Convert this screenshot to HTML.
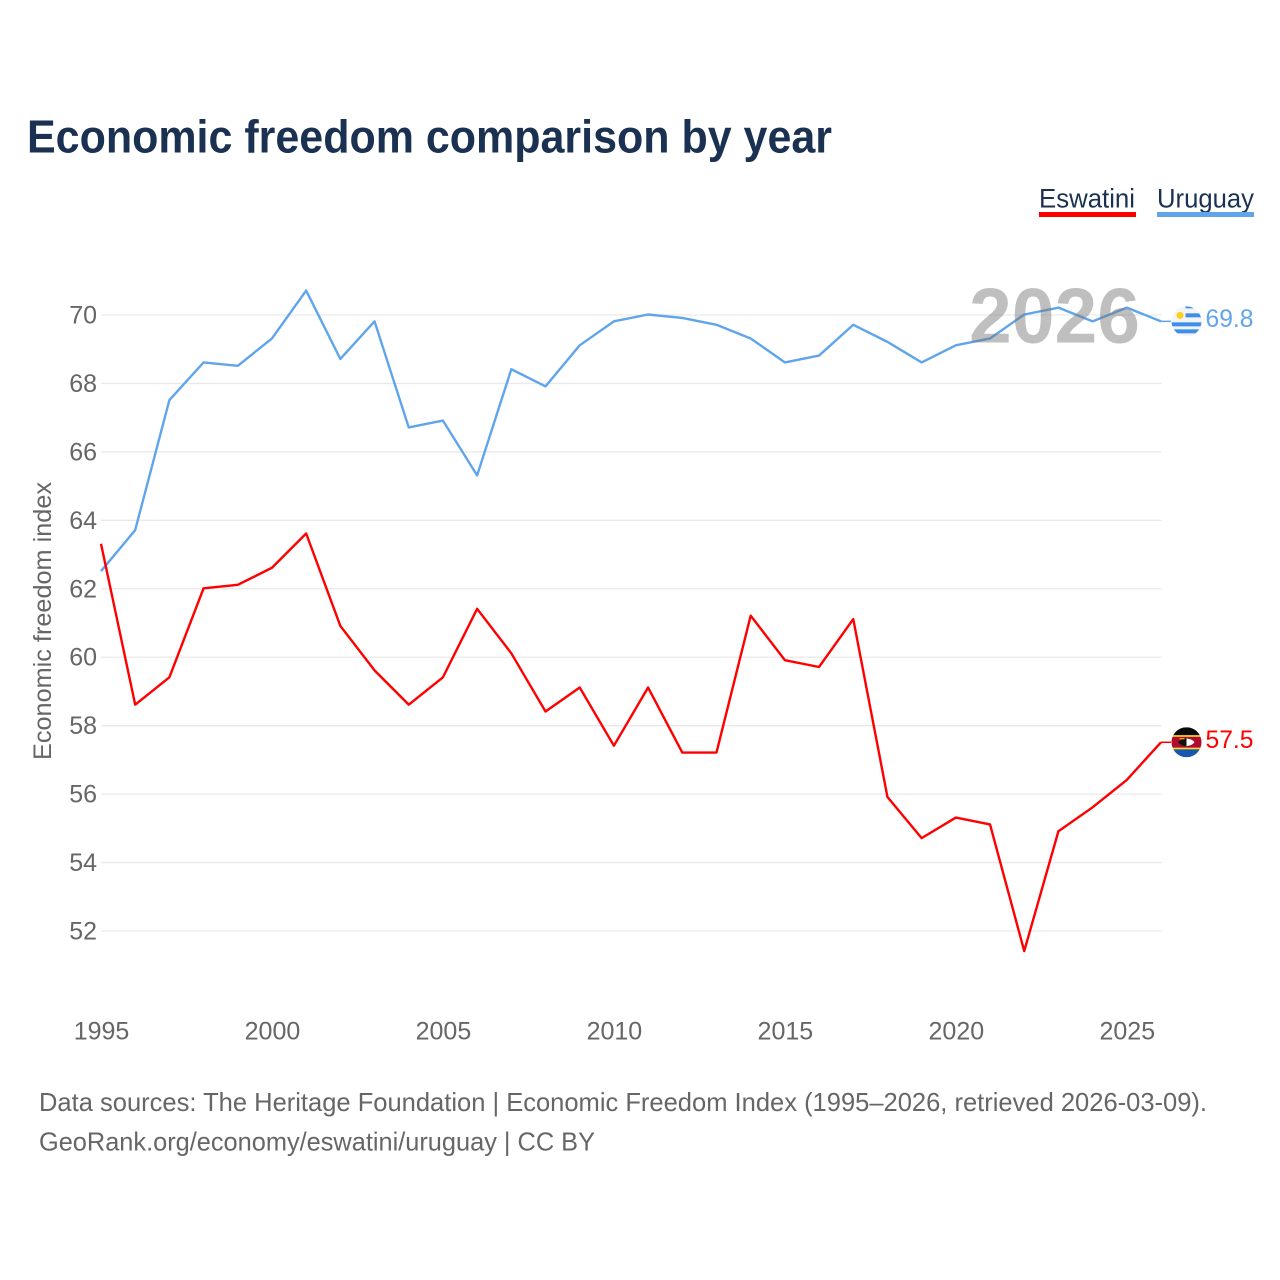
<!DOCTYPE html>
<html lang="en">
<head>
<meta charset="utf-8">
<title>Economic freedom comparison by year</title>
<style>
html,body{margin:0;padding:0;background:#fff;width:1280px;height:1280px;overflow:hidden}
svg{display:block;font-family:"Liberation Sans",sans-serif}
</style>
</head>
<body>
<svg id="chart" width="1280" height="1280" viewBox="0 0 1280 1280" xmlns="http://www.w3.org/2000/svg">
<defs>
<clipPath id="flag-clip"><circle cx="0" cy="0" r="15"></circle></clipPath>
</defs>
<rect width="1280" height="1280" fill="#fff"></rect>
<text x="27" y="152.5" font-size="46" font-weight="700" fill="#1a3152" textLength="805" lengthAdjust="spacingAndGlyphs">Economic freedom comparison by year</text>
<g>
<text x="1039" y="207.5" font-size="27" fill="#1a3152" textLength="96" lengthAdjust="spacingAndGlyphs">Eswatini</text>
<rect x="1039" y="212" width="97" height="5" fill="#ff0000"></rect>
</g>
<g>
<text x="1157" y="207.5" font-size="27" fill="#1a3152" textLength="97" lengthAdjust="spacingAndGlyphs">Uruguay</text>
<rect x="1157" y="212" width="97" height="5" fill="#60a5ec"></rect>
</g>
<g id="grid"></g>
<g id="y-axis"></g>
<g id="x-axis"></g>
<text transform="translate(51,621) rotate(-90)" text-anchor="middle" font-size="25" fill="#666" textLength="278" lengthAdjust="spacingAndGlyphs">Economic freedom index</text>
<g id="series" transform="translate(-0.5,-0.5)"></g>
<text x="969" y="342.5" font-size="78" font-weight="700" fill="#7a7a7a" fill-opacity="0.48" textLength="171" lengthAdjust="spacingAndGlyphs">2026</text>
<g id="flag-uruguay">
<g clip-path="url(#flag-clip)">
<rect x="-15" y="-15" width="30" height="30" fill="#f4f4f4"></rect>
<rect x="-1" y="-15" width="16" height="2" fill="#3f8fe8"></rect>
<rect x="-1" y="-8" width="16" height="4" fill="#3f8fe8"></rect>
<rect x="-15" y="1" width="30" height="4" fill="#3f8fe8"></rect>
<rect x="-15" y="8" width="30" height="4" fill="#3f8fe8"></rect>
<circle cx="-6.5" cy="-6" r="3.5" fill="#fcd116"></circle>
</g>
</g>
<g id="flag-eswatini">
<g clip-path="url(#flag-clip)">
<rect x="-15" y="-15" width="30" height="8" fill="#0a0a0a"></rect>
<rect x="-15" y="-7" width="30" height="1.5" fill="#ffd900"></rect>
<rect x="-15" y="-5.5" width="30" height="11" fill="#b10c2f"></rect>
<rect x="-15" y="5.5" width="30" height="1.5" fill="#ffd900"></rect>
<rect x="-15" y="7" width="30" height="8" fill="#1a56b0"></rect>
<path d="M-9 0 Q-3 -5 3 -4 L3 4 Q-3 5 -9 0Z" fill="#111"></path>
<path d="M0 -4 Q6 -3 8 0 Q6 3 0 4Z" fill="#fff"></path>
<rect x="-7" y="-4" width="5" height="1" fill="#ffd900"></rect>
</g>
</g>
<g id="end-labels"></g>
<text x="39" y="1111" font-size="26" fill="#666" textLength="1168" lengthAdjust="spacingAndGlyphs">Data sources: The Heritage Foundation | Economic Freedom Index (1995–2026, retrieved 2026-03-09).</text>
<text x="39" y="1150.5" font-size="26" fill="#666" textLength="556" lengthAdjust="spacingAndGlyphs">GeoRank.org/economy/eswatini/uruguay | CC BY</text>
</svg>
<script>
const years = [1995,1996,1997,1998,1999,2000,2001,2002,2003,2004,2005,2006,2007,2008,2009,2010,2011,2012,2013,2014,2015,2016,2017,2018,2019,2020,2021,2022,2023,2024,2025,2026];
const uruguayValues = [62.5,63.7,67.5,68.6,68.5,69.3,70.7,68.7,69.8,66.7,66.9,65.3,68.4,67.9,69.1,69.8,70.0,69.9,69.7,69.3,68.6,68.8,69.7,69.2,68.6,69.1,69.3,70.0,70.2,69.8,70.2,69.8];
const eswatiniValues = [63.3,58.6,59.4,62.0,62.1,62.6,63.6,60.9,59.6,58.6,59.4,61.4,60.1,58.4,59.1,57.4,59.1,57.2,57.2,61.2,59.9,59.7,61.1,55.9,54.7,55.3,55.1,51.4,54.9,55.6,56.4,57.5];
const yTicks = [52,54,56,58,60,62,64,66,68,70];
const xTicks = [1995,2000,2005,2010,2015,2020,2025];

const NS = 'http://www.w3.org/2000/svg';
function xScale(year) { return 101.5 + (year - 1995) * (1060 / 31); }
function yScale(value) { return 315 + (70 - value) * (616 / 18); }
function make(tag, parent, attrs, text) {
  const el = document.createElementNS(NS, tag);
  for (const k in attrs) el.setAttribute(k, attrs[k]);
  if (text !== undefined) el.textContent = text;
  parent.appendChild(el);
  return el;
}

const grid = document.getElementById('grid');
const yAxis = document.getElementById('y-axis');
const xAxis = document.getElementById('x-axis');
const series = document.getElementById('series');
const endLabels = document.getElementById('end-labels');

yTicks.forEach(function (t) {
  const line = make('line', grid, {x1: 101, x2: 1161.5, y1: yScale(t), y2: yScale(t), stroke: '#e9e9e9', 'stroke-width': 1.3});
  
  
  const label = make('text', yAxis, {x: 97, y: yScale(t) + 8.5, 'text-anchor': 'end', 'font-size': 25, fill: '#666'}, String(t));
  
  
});

xTicks.forEach(function (t) {
  const label = make('text', xAxis, {x: xScale(t), y: 1039.5, 'text-anchor': 'middle', 'font-size': 25, fill: '#666'}, String(t));
  
  
});

function drawSeries(values, color, flagId, seriesName) {
  const pts = values.map(function (v, i) { return xScale(years[i]).toFixed(2) + ',' + yScale(v).toFixed(2); }).join(' ');
  const line = make('polyline', series, {points: pts, fill: 'none', stroke: color, 'stroke-width': 2.4, 'stroke-linejoin': 'round'});
  
  
  const last = values[values.length - 1];
  const lastY = yScale(last);
  const lastX = xScale(years[years.length - 1]);
  const connector = make('line', series, {x1: lastX, x2: lastX + 10, y1: lastY, y2: lastY, stroke: color, 'stroke-width': 1.5});
  
  
  document.getElementById(flagId).setAttribute('transform', 'translate(' + (lastX + 25) + ',' + (lastY - 0.5) + ')');
  const label = make('text', endLabels, {x: lastX + 44, y: lastY + 5, 'font-size': 25, fill: color, textLength: 48, lengthAdjust: 'spacingAndGlyphs'}, last.toFixed(1));
  
  
}

drawSeries(uruguayValues, '#60a5ec', 'flag-uruguay', 'uruguay');
drawSeries(eswatiniValues, '#ff0000', 'flag-eswatini', 'eswatini');
</script>
</body>
</html>
